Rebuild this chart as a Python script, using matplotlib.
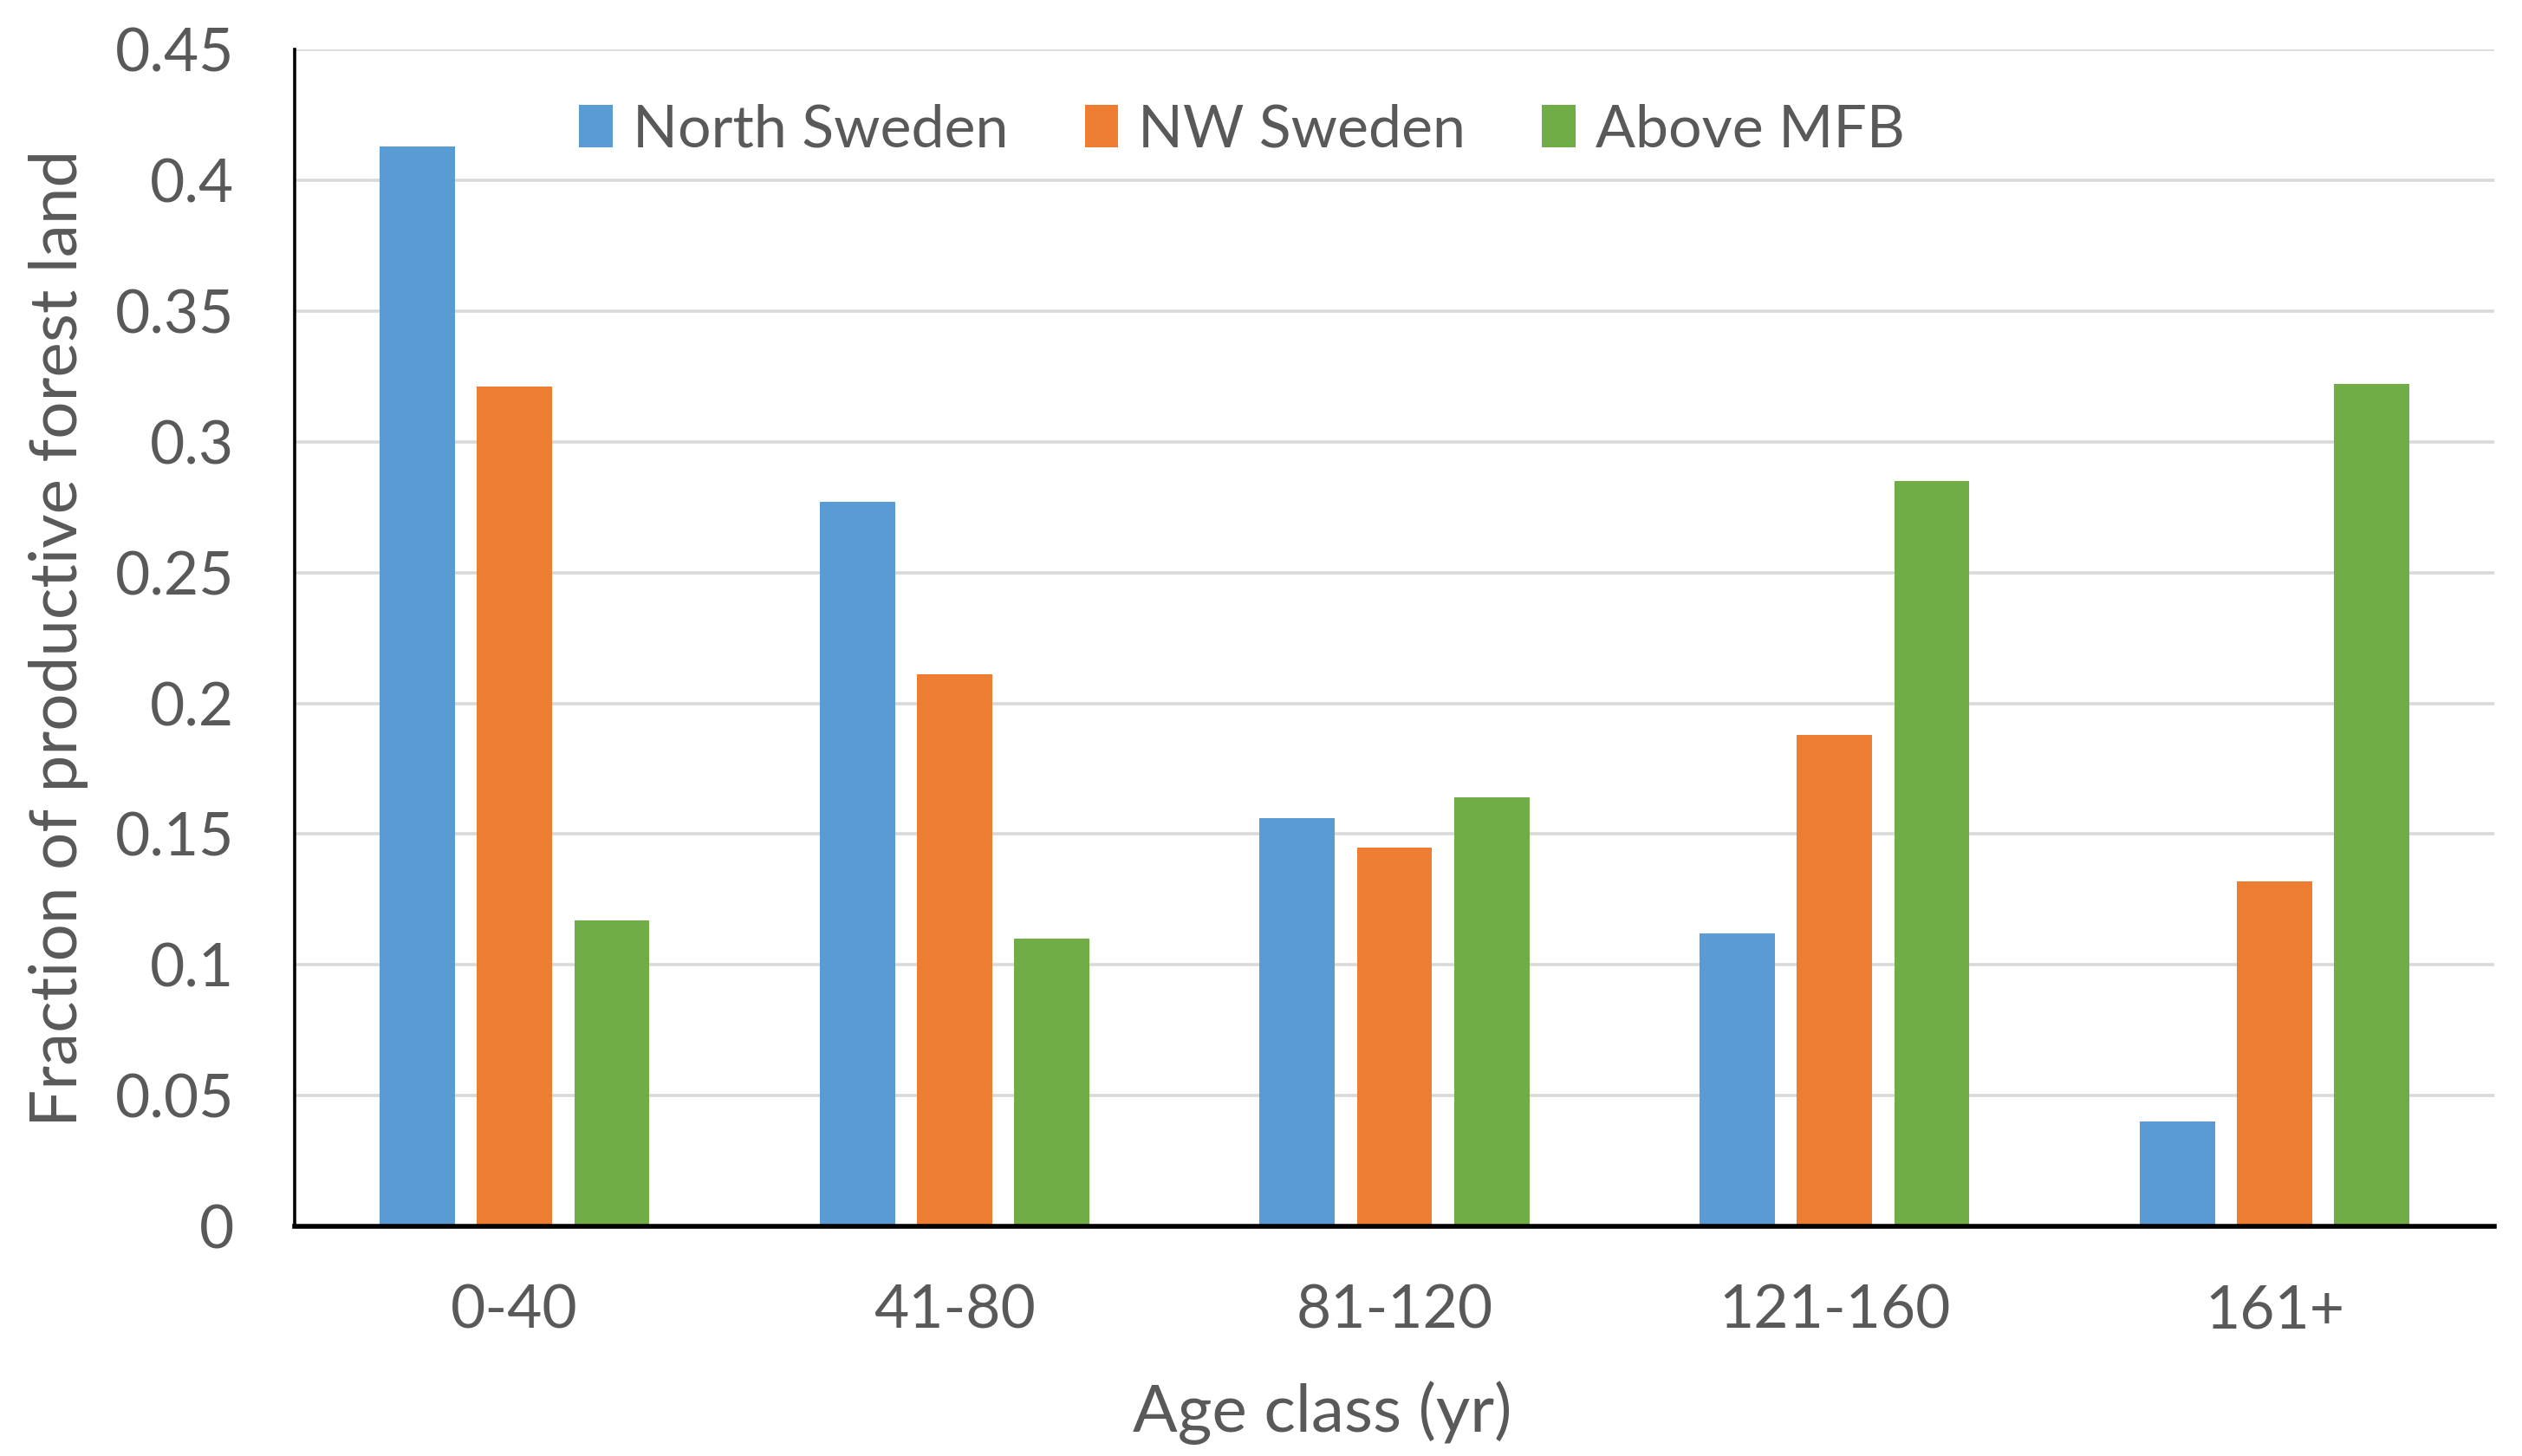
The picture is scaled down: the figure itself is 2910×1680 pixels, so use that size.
import matplotlib.pyplot as plt
import numpy as np

age_classes = ['0-40', '41-80', '81-120', '121-160', '161+']
north_sweden = [0.413, 0.277, 0.156, 0.112, 0.040]
nw_sweden = [0.321, 0.211, 0.145, 0.188, 0.132]
above_mfb = [0.117, 0.110, 0.164, 0.285, 0.322]
series_names = ['North Sweden', 'NW Sweden', 'Above MFB']
colors = ['#5B9BD5', '#ED7D31', '#70AD47']
text_color = '#595959'

plt.rcParams['font.family'] = ['Lato', 'DejaVu Sans']

fig = plt.figure(figsize=(29.1, 16.8), dpi=100)
ax = fig.add_axes([0.1168, 0.1577, 0.8723, 0.8083])

x = np.arange(len(age_classes))
width = 0.171
step = 0.221
for i, (vals, name, c) in enumerate(zip([north_sweden, nw_sweden, above_mfb], series_names, colors)):
    ax.bar(x + (i - 1) * step, vals, width, color=c, label=name, zorder=3)

ax.set_xlim(-0.5, len(age_classes) - 0.5)
ax.set_ylim(0, 0.45)
ax.set_yticks(np.arange(0, 0.451, 0.05))
ax.set_yticklabels(['0', '0.05', '0.1', '0.15', '0.2', '0.25', '0.3', '0.35', '0.4', '0.45'])
ax.set_xticks(x)
ax.set_xticklabels(age_classes)
ax.yaxis.grid(True, color='#D9D9D9', linewidth=2.6, zorder=0)
ax.set_axisbelow(True)

for s in ['top', 'right']:
    ax.spines[s].set_visible(False)
ax.spines['left'].set_linewidth(2.6)
ax.spines['bottom'].set_linewidth(4)
ax.spines['bottom'].set_zorder(5)
ax.tick_params(axis='both', length=0, labelsize=50, labelcolor=text_color)
ax.tick_params(axis='y', pad=50)
ax.tick_params(axis='x', pad=48)

# the x label sits a bit left of the axes centre in the original
ax.set_xlabel('Age class (yr)', fontsize=55, color=text_color, labelpad=35, x=0.467)
ax.set_ylabel('Fraction of productive forest land', fontsize=55, color=text_color, labelpad=22)

fig.legend(loc='center', bbox_to_anchor=(0.4924, 0.9104), ncol=3, frameon=False,
           fontsize=49, handlelength=0.57, handleheight=0.73, handletextpad=0.33,
           columnspacing=1.3, labelcolor=text_color)

plt.savefig('out.png', dpi=100)
